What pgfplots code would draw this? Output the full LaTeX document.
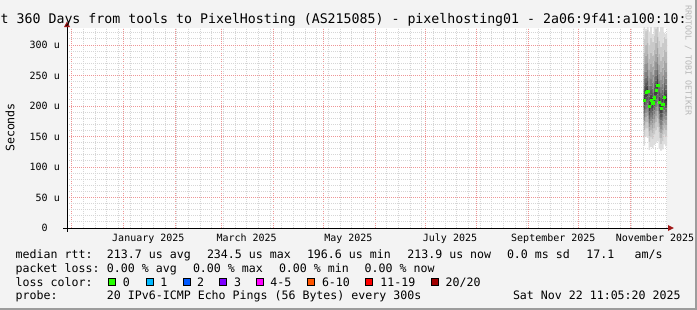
\documentclass[border=0pt]{standalone}
\usepackage{pgfplots}
\pgfplotsset{compat=1.18}
\usepackage{pgfplotstable}
\usepackage{fontspec}
\setmainfont{DejaVu Sans Mono}
\usetikzlibrary{arrows.meta}

\definecolor{bgc}{HTML}{F3F3F3}
\definecolor{mgrid}{HTML}{EE9696}
\definecolor{ngrid}{HTML}{D6D6D6}
\definecolor{arrowc}{HTML}{A01818}
\definecolor{wmark}{HTML}{B8B8B8}
\definecolor{shadeb}{HTML}{9C9C9C}
\definecolor{g221}{RGB}{221,221,221}
\definecolor{g202}{RGB}{202,202,202}
\definecolor{g183}{RGB}{183,183,183}
\definecolor{g164}{RGB}{164,164,164}
\definecolor{g145}{RGB}{145,145,145}
\definecolor{g126}{RGB}{126,126,126}
\definecolor{g107}{RGB}{107,107,107}
\definecolor{g88}{RGB}{88,88,88}
\definecolor{g69}{RGB}{69,69,69}
\definecolor{g50}{RGB}{50,50,50}
\definecolor{lc0}{HTML}{26FF00}
\definecolor{lc1}{HTML}{00B8FF}
\definecolor{lc2}{HTML}{0059FF}
\definecolor{lc3}{HTML}{7E00FF}
\definecolor{lc4}{HTML}{FF00FF}
\definecolor{lc5}{HTML}{FF5500}
\definecolor{lc6}{HTML}{FF0000}
\definecolor{lc7}{HTML}{A00000}

\newcommand{\tf}{\fontsize{10bp}{12bp}\selectfont}
\newcommand{\lf}{\fontsize{11.6bp}{14bp}\selectfont}
\newcommand{\ttl}{\fontsize{13.25bp}{16bp}\selectfont}

% day = days since 1 Dec 2024; 20 sorted ping values per column (microseconds)
\pgfplotstableread{
d p1 p2 p3 p4 p5 p6 p7 p8 p9 p10 p11 p12 p13 p14 p15 p16 p17 p18 p19 p20
343.1 135 150 160 168 175 182 189 195 201 207 213 219 226 234 244 256 270 288 310 380
344.1 150 164 173 181 188 195 202 208 214 220 225 231 238 247 257 269 283 301 323 326
345.1 148 163 174 183 190 197 204 210 216 222 228 234 241 249 259 271 285 303 325 420
346.1 128 141 151 158 165 172 179 185 191 197 203 209 216 224 234 246 260 278 300 322
347.1 133 149 160 168 175 182 189 195 201 207 213 219 226 234 244 256 270 288 312 360
348.1 131 146 156 164 171 178 185 191 197 203 208 214 221 229 239 251 265 283 305 318
349.1 136 153 164 172 179 186 193 199 205 211 217 223 230 238 248 260 274 292 316 400
350.1 140 160 174 184 191 198 205 211 217 223 229 235 242 250 260 272 286 304 326 350
351.1 142 165 180 191 199 206 213 219 226 232 238 244 251 259 269 281 295 313 335 370
352.1 130 147 157 165 172 179 186 192 198 204 210 216 223 231 241 253 267 285 307 322
353.1 127 138 148 155 162 169 176 182 188 194 200 206 213 221 231 243 257 275 297 390
354.1 129 143 153 161 168 175 182 188 194 200 206 212 219 227 237 249 263 281 303 340
355.1 137 153 164 172 179 186 193 199 205 211 217 223 230 238 248 260 274 292 314 320
356.1 134 150 161 169 176 183 190 196 202 208 214 220 227 235 245 257 271 289 310 318
357.2 134 150 161 169 176 183 190 196 202 208 214 220 227 235 245 257 271 289 310 318
}\smoke

\pgfplotstableread{
d med
343.6 209.8
344.6 222.5
345.6 225.0
346.6 200.0
347.6 209.8
348.6 205.4
349.6 213.6
350.6 226.0
351.6 234.5
352.6 206.6
353.6 196.6
354.6 203.3
355.6 213.9
}\median

\begin{document}
\begin{tikzpicture}
\useasboundingbox (0,0) rectangle (697bp,-310bp);
\begin{scope}[x=1bp,y=-1bp]
\fill[bgc] (0,0) rectangle (697,310);
\fill[shadeb] (695,0) rectangle (697,310);
\fill[shadeb] (0,308) rectangle (697,310);
\fill[white] (67,28) rectangle (667,228);
\end{scope}

\begin{axis}[
  at={(67bp,-228bp)}, anchor=south west,
  scale only axis, width=600bp, height=200bp,
  xmin=-2.8, xmax=357.2, ymin=0, ymax=328,
  axis lines=left, axis line style={draw=none},
  xtick={0,31,62,90,121,151,182,212,243,274,304,335},
  xticklabels={},
  minor xtick={7,14,...,357},
  extra x ticks={46,105,166,227,289,350},
  extra x tick labels={January 2025,March 2025,May 2025,July 2025,September 2025,November 2025},
  extra x tick style={grid=none},
  ytick={0,50,100,150,200,250,300},
  yticklabels={0\hphantom{\ u},50 u,100 u,150 u,200 u,250 u,300 u},
  minor ytick={10,20,30,40,60,70,80,90,110,120,130,140,160,170,180,190,210,220,230,240,260,270,280,290,310,320},
  grid=both,
  major grid style={mgrid, line width=1bp, dash pattern=on 1bp off 1bp},
  minor grid style={ngrid, line width=1bp, dash pattern=on 1bp off 1bp},
  major tick length=0pt, minor tick length=0pt,
  tick style={draw=none},
  xticklabel style={font=\tf, anchor=base, inner sep=0pt, yshift=-13bp},
  yticklabel style={font=\tf, anchor=east, inner sep=0pt, xshift=-7bp},
]
\addplot[draw=none, const plot, stack plots=y, forget plot] table[x=d, y=p1] {\smoke};
\addplot[fill=g221, draw=none, const plot, stack plots=y] table[x=d, y expr=\thisrow{p2}-\thisrow{p1}] {\smoke} \closedcycle;
\addplot[fill=g202, draw=none, const plot, stack plots=y] table[x=d, y expr=\thisrow{p3}-\thisrow{p2}] {\smoke} \closedcycle;
\addplot[fill=g183, draw=none, const plot, stack plots=y] table[x=d, y expr=\thisrow{p4}-\thisrow{p3}] {\smoke} \closedcycle;
\addplot[fill=g164, draw=none, const plot, stack plots=y] table[x=d, y expr=\thisrow{p5}-\thisrow{p4}] {\smoke} \closedcycle;
\addplot[fill=g145, draw=none, const plot, stack plots=y] table[x=d, y expr=\thisrow{p6}-\thisrow{p5}] {\smoke} \closedcycle;
\addplot[fill=g126, draw=none, const plot, stack plots=y] table[x=d, y expr=\thisrow{p7}-\thisrow{p6}] {\smoke} \closedcycle;
\addplot[fill=g107, draw=none, const plot, stack plots=y] table[x=d, y expr=\thisrow{p8}-\thisrow{p7}] {\smoke} \closedcycle;
\addplot[fill=g88, draw=none, const plot, stack plots=y] table[x=d, y expr=\thisrow{p9}-\thisrow{p8}] {\smoke} \closedcycle;
\addplot[fill=g69, draw=none, const plot, stack plots=y] table[x=d, y expr=\thisrow{p10}-\thisrow{p9}] {\smoke} \closedcycle;
\addplot[fill=g50, draw=none, const plot, stack plots=y] table[x=d, y expr=\thisrow{p11}-\thisrow{p10}] {\smoke} \closedcycle;
\addplot[fill=g69, draw=none, const plot, stack plots=y] table[x=d, y expr=\thisrow{p12}-\thisrow{p11}] {\smoke} \closedcycle;
\addplot[fill=g88, draw=none, const plot, stack plots=y] table[x=d, y expr=\thisrow{p13}-\thisrow{p12}] {\smoke} \closedcycle;
\addplot[fill=g107, draw=none, const plot, stack plots=y] table[x=d, y expr=\thisrow{p14}-\thisrow{p13}] {\smoke} \closedcycle;
\addplot[fill=g126, draw=none, const plot, stack plots=y] table[x=d, y expr=\thisrow{p15}-\thisrow{p14}] {\smoke} \closedcycle;
\addplot[fill=g145, draw=none, const plot, stack plots=y] table[x=d, y expr=\thisrow{p16}-\thisrow{p15}] {\smoke} \closedcycle;
\addplot[fill=g164, draw=none, const plot, stack plots=y] table[x=d, y expr=\thisrow{p17}-\thisrow{p16}] {\smoke} \closedcycle;
\addplot[fill=g183, draw=none, const plot, stack plots=y] table[x=d, y expr=\thisrow{p18}-\thisrow{p17}] {\smoke} \closedcycle;
\addplot[fill=g202, draw=none, const plot, stack plots=y] table[x=d, y expr=\thisrow{p19}-\thisrow{p18}] {\smoke} \closedcycle;
\addplot[fill=g221, draw=none, const plot, stack plots=y] table[x=d, y expr=\thisrow{p20}-\thisrow{p19}] {\smoke} \closedcycle;
\addplot[only marks, mark=square*, mark size=1.1bp, color=lc0, stack plots=false] table[x=d, y=med] {\median};
\end{axis}

\begin{scope}[x=1bp,y=-1bp]
% axes
\draw[black, line width=1bp] (63,228) -- (669,228);
\fill[arrowc] (668,225) -- (673.8,228) -- (668,231) -- cycle;
\draw[black, line width=1bp] (67,231.5) -- (67,26);
\fill[arrowc] (64,27) -- (67,21.5) -- (70,27) -- cycle;
% title
\node[anchor=base west, inner sep=0pt, font=\ttl] at (0.5,23) {t 360 Days from tools to PixelHosting (AS215085) - pixelhosting01 - 2a06:9f41:a100:10:};
% watermark
\node[anchor=base west, inner sep=0pt, rotate=-90, text=wmark, font=\fontsize{8.3bp}{10bp}\selectfont] at (685.5,5) {RRDTOOL / TOBI OETIKER};
% y label
\node[rotate=90, inner sep=0pt, font=\lf] at (10,127.5) {Seconds};
% legend
\begin{scope}[every node/.style={anchor=base west, inner sep=0pt, font=\lf}]
\node at (15.5,258) {median rtt:};
\node at (106.8,258) {213.7 us avg};
\node at (206.8,258) {234.5 us max};
\node at (306.8,258) {196.6 us min};
\node at (407.2,258) {213.9 us now};
\node at (506.8,258) {0.0 ms sd};
\node at (586.2,258) {17.1};
\node at (634.5,258) {am/s};
\node at (15.5,272) {packet loss:};
\node at (106.8,272) {0.00 \% avg};
\node at (192.8,272) {0.00 \% max};
\node at (278.8,272) {0.00 \% min};
\node at (364.5,272) {0.00 \% now};
\node at (15.5,286) {loss color:};
\node at (122.8,286) {0};
\node at (160.2,286) {1};
\node at (196.8,286) {2};
\node at (233.8,286) {3};
\node at (270.2,286) {4-5};
\node at (321.8,286) {6-10};
\node at (380.2,286) {11-19};
\node at (445.5,286) {20/20};
\node at (15.5,299.5) {probe:};
\node at (106.8,299.5) {20 IPv6-ICMP Echo Pings (56 Bytes) every 300s};
\node at (512.8,299.5) {Sat Nov 22 11:05:20 2025};
\end{scope}
\begin{scope}[line width=1bp, draw=black]
\filldraw[fill=lc0] (108.8,278.2) rectangle (115.6,285.4);
\filldraw[fill=lc1] (146.2,278.2) rectangle (153.0,285.4);
\filldraw[fill=lc2] (183.2,278.2) rectangle (190.0,285.4);
\filldraw[fill=lc3] (219.8,278.2) rectangle (226.6,285.4);
\filldraw[fill=lc4] (256.5,278.2) rectangle (263.3,285.4);
\filldraw[fill=lc5] (307.8,278.2) rectangle (314.6,285.4);
\filldraw[fill=lc6] (365.8,278.2) rectangle (372.6,285.4);
\filldraw[fill=lc7] (431.2,278.2) rectangle (438.0,285.4);
\end{scope}
\end{scope}
\end{tikzpicture}
\end{document}
